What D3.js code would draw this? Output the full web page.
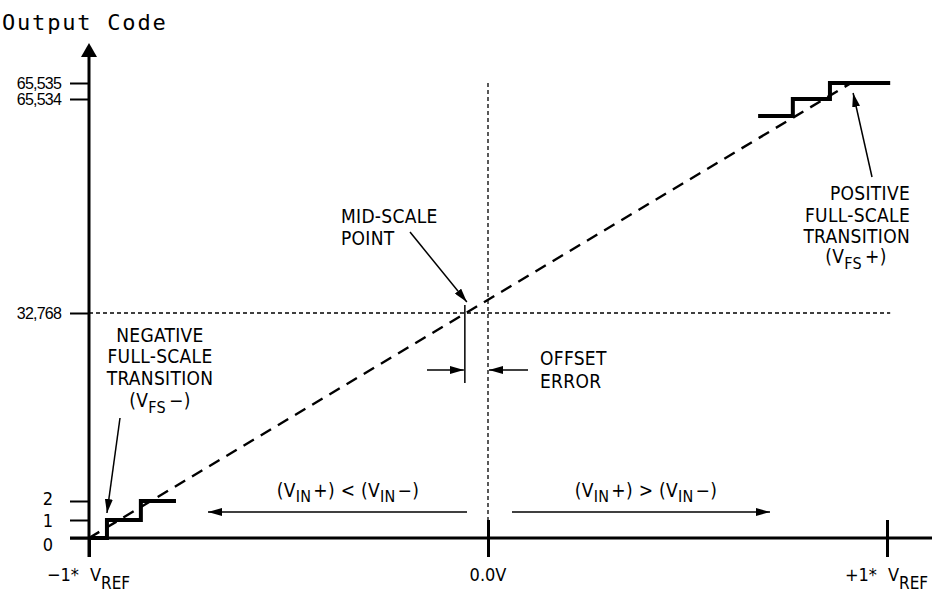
<!DOCTYPE html>
<html>
<head>
<meta charset="utf-8">
<script src="https://cdn.jsdelivr.net/npm/d3@7"></script>
<style>
body { margin: 0; background: #fff; }
svg { display: block; }
</style>
</head>
<body>
<script>
var W = 932, H = 596;
var techFont = '"DejaVu Sans Condensed", "Liberation Sans Narrow", sans-serif';
var numFont = '"Liberation Sans", Arial, sans-serif';

// axis ticks
var xTicks = [-1, 0, 1];
var xTickPre = ["\u22121*", "", "+1*"];
var xTickMain = ["V", "0.0V", "V"];
var xTickSub = ["REF", "", "REF"];
var yTicks = [0, 1, 2, 32768, 65534, 65535];

// transfer function (x in units of VREF, y = output code)
var lowX = [-1, -0.955, -0.870, -0.782];
var lowCode = [0, 1, 2, 2];
var highX = [0.677, 0.764, 0.857, 1.008];
var highCode = [65533, 65534, 65535, 65535];
var idealX = [-1, 0.91];
var idealCode = [0, 65535];
var midScaleX = -0.058;
var midCode = 32768;

var x = d3.scaleLinear().domain([-1, 1]).range([89, 887]);
// schematic (broken) code axis
var y = d3.scaleLinear()
	.domain([0, 1, 2, 32768, 65533, 65534, 65535])
	.range([538, 520, 501, 313, 116, 99, 83]);

var svg = d3.select("body").append("svg").attr("width", W).attr("height", H);

svg.append("text")
	.attr("x", 2).attr("y", 30)
	.attr("font-family", '"DejaVu Sans Mono", monospace')
	.attr("font-size", 22)
	.attr("letter-spacing", 1.8)
	.text("Output Code");

// dotted guides
svg.append("line")
	.attr("x1", x(0)).attr("x2", x(0))
	.attr("y1", y(65535)).attr("y2", y(0))
	.attr("stroke", "#000").attr("stroke-width", 1.3).attr("stroke-dasharray", "4,3");
svg.append("line")
	.attr("x1", x(-1)).attr("x2", x(highX[3]))
	.attr("y1", y(midCode)).attr("y2", y(midCode))
	.attr("stroke", "#000").attr("stroke-width", 1.3).attr("stroke-dasharray", "4,3");

// ideal transfer line
var line = d3.line().x(function(d){ return x(d[0]) }).y(function(d){ return y(d[1]) });
svg.append("path")
	.attr("d", line(d3.zip(idealX, idealCode)))
	.attr("fill", "none").attr("stroke", "#000")
	.attr("stroke-width", 2.4).attr("stroke-dasharray", "12,8");

// staircases
var step = d3.line().x(function(d){ return x(d[0]) }).y(function(d){ return y(d[1]) }).curve(d3.curveStepAfter);
[d3.zip(lowX, lowCode), d3.zip(highX, highCode)].forEach(function(pts) {
	svg.append("path")
		.attr("d", step(pts))
		.attr("fill", "none").attr("stroke", "#000")
		.attr("stroke-width", 4).attr("stroke-linejoin", "miter");
});

// y axis
var yAxis = d3.axisLeft(y).tickValues(yTicks).tickSize(19).tickPadding(9).tickFormat(d3.format(","));
var gY = svg.append("g").attr("transform", "translate(" + x(-1) + ",0)").call(yAxis);
gY.select(".domain").remove();
gY.selectAll(".tick line").attr("stroke", "#000").attr("stroke-width", 2);
gY.selectAll(".tick text")
	.attr("fill", "#000")
	.attr("font-family", numFont)
	.attr("font-size", 16)
	.attr("letter-spacing", -0.8);
gY.selectAll(".tick text").filter(function(d){ return d < 3 })
	.attr("font-family", techFont)
	.attr("font-size", 18)
	.attr("letter-spacing", 0)
	.attr("x", -36)
	.attr("y", function(d){ return d == 0 ? 7 : (d == 2 ? -2 : 1) });

svg.append("line")
	.attr("x1", x(-1)).attr("x2", x(-1))
	.attr("y1", y(65535) - 27).attr("y2", y(0) + 19)
	.attr("stroke", "#000").attr("stroke-width", 3);
svg.append("path")
	.attr("d", "M" + x(-1) + "," + (y(65535) - 40) + "l-8,14h16z")
	.attr("fill", "#000");

// x axis
var gX = svg.append("g").attr("transform", "translate(0," + y(0) + ")")
	.call(d3.axisBottom(x).tickValues(xTicks).tickSize(19).tickFormat(""));
gX.select(".domain").remove();
gX.selectAll(".tick line")
	.attr("stroke", "#000").attr("stroke-width", 3)
	.attr("y1", function(d){ return d == -1 ? 0 : -18 });
svg.append("line")
	.attr("x1", x(-1) - 19).attr("x2", W)
	.attr("y1", y(0)).attr("y2", y(0))
	.attr("stroke", "#000").attr("stroke-width", 3);

xTicks.forEach(function(v, i) {
	var t = svg.append("text")
		.attr("font-family", techFont).attr("font-size", 18)
		.attr("y", 581);
	if (xTickSub[i] == "") {
		t.attr("x", x(v)).attr("text-anchor", "middle").text(xTickMain[i]);
	} else {
		t.attr("x", x(v) - 42);
		t.append("tspan").text(xTickPre[i]);
		t.append("tspan").attr("dx", 11).text(xTickMain[i]);
		t.append("tspan").attr("dy", 8).attr("font-size", 17).text(xTickSub[i]);
	}
});

// annotations
svg.append("defs").append("marker")
	.attr("id", "head")
	.attr("viewBox", "0 0 14 8")
	.attr("refX", 14).attr("refY", 4)
	.attr("markerWidth", 14).attr("markerHeight", 8)
	.attr("markerUnits", "userSpaceOnUse")
	.attr("orient", "auto")
	.append("path").attr("d", "M0,0L14,4L0,8z").attr("fill", "#000");

function arrow(x1, y1, x2, y2) {
	svg.append("line")
		.attr("x1", x1).attr("y1", y1).attr("x2", x2).attr("y2", y2)
		.attr("stroke", "#000").attr("stroke-width", 1.5)
		.attr("marker-end", "url(#head)");
}

function label(px, py, anchor, parts) {
	var t = svg.append("text")
		.attr("x", px).attr("y", py)
		.attr("text-anchor", anchor)
		.attr("font-family", techFont).attr("font-size", 19)
		.attr("letter-spacing", 0.3);
	parts.forEach(function(p) {
		var s = t.append("tspan").text(p[0]);
		if (p[1]) s.attr("dy", p[1]);
		if (p[2]) s.attr("font-size", p[2]);
		if (p[3]) s.attr("dx", p[3]);
	});
}

// mid-scale point
label(341, 223, "start", [["MID-SCALE"]]);
label(341, 245, "start", [["POINT"]]);
arrow(410, 232, x(midScaleX) + 2, y(midCode) - 11);
svg.append("line")
	.attr("x1", x(midScaleX)).attr("x2", x(midScaleX))
	.attr("y1", y(midCode) - 8).attr("y2", y(midCode) + 70)
	.attr("stroke", "#000").attr("stroke-width", 1.5);

// offset error
arrow(427, 370, x(midScaleX) - 1, 370);
arrow(528, 370, x(0) + 1, 370);
label(540, 365, "start", [["OFFSET"]]);
label(540, 388, "start", [["ERROR"]]);

// negative full-scale
label(160, 342, "middle", [["NEGATIVE"]]);
label(160, 363, "middle", [["FULL-SCALE"]]);
label(160, 385, "middle", [["TRANSITION"]]);
label(160, 407, "middle", [["(V"], ["FS", 6, 16], ["\u2212)", -6, 19, 3]]);
arrow(120, 418, x(lowX[1]), y(1) - 7);

// positive full-scale
label(910, 200, "end", [["POSITIVE"]]);
label(910, 222, "end", [["FULL-SCALE"]]);
label(910, 243, "end", [["TRANSITION"]]);
label(856, 263, "middle", [["(V"], ["FS", 6, 16], ["+)", -6, 19, 3]]);
arrow(872, 177, x(idealX[1]) + 2, y(65535) + 10);

// input polarity
label(348, 497, "middle", [["(V"], ["IN", 5, 16], ["+)  <  (V", -5, 19, 2], ["IN", 5, 16], ["\u2212)", -5, 19, 2]]);
arrow(467, 512, 208, 512);
label(646, 497, "middle", [["(V"], ["IN", 5, 16], ["+)  >  (V", -5, 19, 2], ["IN", 5, 16], ["\u2212)", -5, 19, 2]]);
arrow(512, 512, 770, 512);
</script>
</body>
</html>
